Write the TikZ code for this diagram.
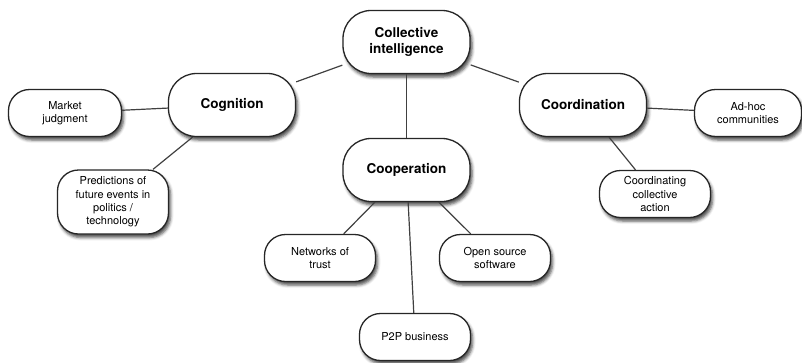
\documentclass[tikz,border=0pt]{standalone}
\usepackage{fontspec}
\setmainfont{TeX Gyre Heros}
\usetikzlibrary{shadows.blur}

\begin{document}
\begin{tikzpicture}[x=1pt,y=-1pt,
  hub/.style={draw=black!85,line width=1.3pt,fill=white,rounded corners=28pt,
    minimum width=127pt,minimum height=63pt,align=center,
    font=\fontsize{13.5}{16.5}\selectfont\bfseries,
    blur shadow={shadow xshift=2pt,shadow yshift=-3.5pt,shadow blur radius=3pt,
      shadow opacity=70}},
  leaf/.style={hub,rounded corners=21pt,minimum width=111pt,minimum height=47pt,
    inner sep=2pt,font=\fontsize{11}{13.3}\selectfont},
  link/.style={draw=black!75,line width=1.2pt}]

\useasboundingbox (0,0) rectangle (802,362);

% Main topics
\node[hub] (ci) at (406.5,42) {Collective\\intelligence};
\node[hub] (cog) at (232,105) {Cognition};
\node[hub] (coop) at (406.5,170) {Cooperation};
\node[hub] (coord) at (583,105) {Coordination};

% Examples
\node[leaf,minimum width=113pt] (market) at (65,113) {Market\\judgment};
\node[leaf,minimum height=64pt] (pred) at (113,202) {Predictions of\\future events in\\politics /\\technology};
\node[leaf] (trust) at (320,258) {Networks of\\trust};
\node[leaf] (oss) at (495,258) {Open source\\software};
\node[leaf] (p2p) at (415,337) {P2P business};
\node[leaf] (action) at (655,194) {Coordinating\\collective\\action};
\node[leaf,minimum width=107pt] (adhoc) at (748,113) {Ad-hoc\\communities};

% Links
\draw[link] (ci) -- (cog);
\draw[link] (ci) -- (coop);
\draw[link] (ci) -- (coord);
\draw[link] (cog) -- (market);
\draw[link] (cog) -- (pred);
\draw[link] (coop) -- (trust);
\draw[link] (coop) -- (p2p);
\draw[link] (coop) -- (oss);
\draw[link] (coord) -- (adhoc);
\draw[link] (coord) -- (action);

\end{tikzpicture}
\end{document}
